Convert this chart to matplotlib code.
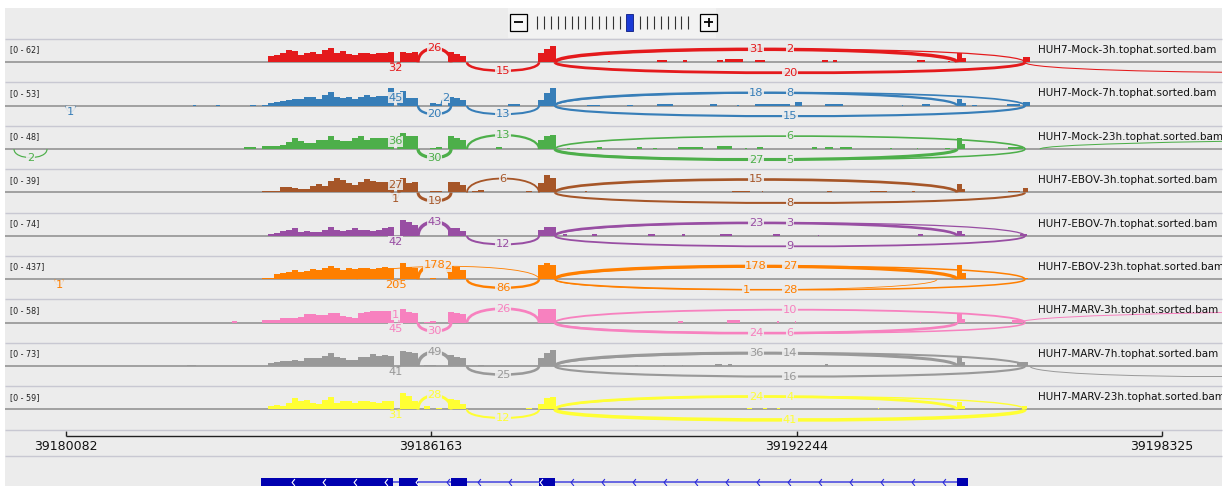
import numpy as np
import matplotlib
matplotlib.use("Agg")
import matplotlib.pyplot as plt
from matplotlib.path import Path
from matplotlib.patches import PathPatch, Rectangle

W, H = 1230, 486
VIEW_START, VIEW_END = 39179075, 39199323

SAMPLES = ["HUH7-Mock-3h.tophat.sorted.bam", "HUH7-Mock-7h.tophat.sorted.bam",
           "HUH7-Mock-23h.tophat.sorted.bam", "HUH7-EBOV-3h.tophat.sorted.bam",
           "HUH7-EBOV-7h.tophat.sorted.bam", "HUH7-EBOV-23h.tophat.sorted.bam",
           "HUH7-MARV-3h.tophat.sorted.bam", "HUH7-MARV-7h.tophat.sorted.bam",
           "HUH7-MARV-23h.tophat.sorted.bam"]
RANGES = [62, 53, 48, 39, 74, 437, 58, 73, 59]
COLORS = ["#e41a1c", "#377eb8", "#4daf4a", "#a65628", "#984ea3",
          "#ff7f00", "#f781bf", "#999999", "#ffff33"]

# coverage in 100 bp bins starting at COV_START
COV_START = 39183050
COV_BIN = 100
MOCK_3H_COV = [0,0,0,0,22,24,31,40,37,26, 31,34,28,40,48,31,37,28,26,31,
               31,29,31,31,35,0,33,31,33,0, 0,0,0,0,35,29,20,0,0,0,
               0,0,0,0,0,0,0,0,0,31, 43,54]
MOCK_7H_COV = [0,3,0,3,8,12,14,17,19,20, 26,24,20,31,39,26,22,24,20,24,
               31,26,29,29,50,0,41,22,22,0, 0,7,4,0,24,22,17,0,0,0,
               0,0,0,0,4,4,0,0,0,17, 36,50]
MOCK_23H_COV = [5,5,0,7,9,9,11,18,28,20, 15,15,24,24,33,24,21,20,30,33,
                24,28,28,28,28,0,41,34,34,0, 0,3,5,0,33,28,24,0,0,0,
                0,0,5,0,0,0,0,0,0,24, 35,37]
EBOV_3H_COV = [0,0,0,4,4,4,11,11,9,8, 8,13,18,13,25,30,27,20,16,23,
               28,25,23,23,23,0,30,20,23,0, 0,3,3,0,23,23,15,0,4,5,
               0,0,0,0,0,0,0,3,0,20, 37,30]
EBOV_7H_COV = [0,0,0,0,7,11,20,24,30,17, 20,17,17,24,37,24,20,24,30,24,
               24,20,24,30,37,0,63,57,44,0, 0,0,0,0,33,30,20,0,0,0,
               0,0,0,0,0,0,0,0,0,24, 37,37]
EBOV_23H_COV = [0,0,0,23,39,117,140,164,218,180, 195,242,218,273,320,257,218,257,242,257,
                273,242,273,281,273,0,374,296,257,0, 0,23,0,0,320,296,218,0,0,0,
                0,0,0,0,0,0,0,0,0,335, 374,335]
MARV_3H_COV = [0,0,0,10,9,9,14,16,16,18, 26,28,24,24,30,31,21,18,16,31,
               34,36,36,36,36,0,42,34,31,0, 3,5,0,0,34,31,26,0,0,0,
               0,0,0,0,0,0,0,0,0,42, 42,42]
MARV_7H_COV = [0,0,0,0,13,17,20,22,26,22, 33,33,30,39,52,35,33,26,26,35,
               35,46,39,43,39,0,61,56,52,0, 6,6,0,0,43,35,33,0,0,6,
               0,0,0,0,0,0,0,0,0,33, 52,65]
MARV_23H_COV = [0,0,0,0,10,14,10,21,37,26, 31,21,18,31,39,21,26,26,21,26,
                26,24,21,26,28,0,52,42,26,0, 10,0,5,0,35,31,18,0,0,0,
                0,0,0,0,0,0,0,5,0,16, 37,39]

# sparse coverage outside the binned window: (start, end, depth)
MOCK_3H_BLIPS = [(39189110, 39189140, 3), (39189920, 39190090, 8), (39190360, 39190420, 8),
                 (39190920, 39191020, 8), (39191050, 39191350, 11), (39191550, 39191720, 8),
                 (39192670, 39192770, 8), (39192850, 39192920, 8), (39194250, 39194380, 8),
                 (39194760, 39194800, 6), (39194910, 39194990, 31), (39194990, 39195060, 14),
                 (39196010, 39196130, 18)]
MOCK_7H_BLIPS = [(39182200, 39182250, 3), (39182590, 39182650, 3), (39188760, 39188970, 3),
                 (39189420, 39189520, 3), (39189920, 39190190, 5), (39190810, 39190920, 4),
                 (39191250, 39191280, 3), (39191550, 39191750, 6), (39191750, 39192020, 5),
                 (39192020, 39192140, 6), (39192220, 39192340, 10), (39192720, 39193020, 5),
                 (39194000, 39194020, 2), (39194330, 39194470, 4), (39194910, 39194990, 19),
                 (39194990, 39195060, 9), (39195160, 39195250, 3), (39195750, 39195960, 4),
                 (39196010, 39196130, 11)]
MOCK_23H_BLIPS = [(39188430, 39188480, 4), (39188920, 39189010, 5), (39189590, 39189670, 5),
                  (39189860, 39189920, 4), (39190270, 39190690, 6), (39190920, 39191170, 9),
                  (39191390, 39191420, 4), (39191590, 39191690, 5), (39192500, 39192590, 5),
                  (39192720, 39192850, 5), (39192970, 39193170, 5), (39193800, 39193830, 4),
                  (39194250, 39194270, 4), (39194710, 39194800, 4), (39194910, 39194990, 30),
                  (39194990, 39195050, 12), (39195760, 39196010, 6)]
EBOV_3H_BLIPS = [(39188730, 39188760, 3), (39191170, 39191470, 4), (39191670, 39191690, 3),
                 (39192750, 39192830, 4), (39193470, 39193750, 4), (39194170, 39194220, 3),
                 (39194910, 39194990, 18), (39194990, 39195050, 8), (39195760, 39195960, 4),
                 (39196010, 39196100, 10)]
EBOV_7H_BLIPS = [(39188360, 39188430, 7), (39188840, 39188920, 7), (39189770, 39189890, 7),
                 (39190340, 39190390, 7), (39190970, 39191170, 8), (39191850, 39191970, 7),
                 (39192600, 39192620, 5), (39194270, 39194350, 7), (39194910, 39194990, 20),
                 (39194990, 39195050, 9), (39195960, 39196080, 7)]
EBOV_23H_BLIPS = [(39194910, 39194990, 330), (39194990, 39195060, 150), (39196010, 39196100, 39)]
MARV_3H_BLIPS = [(39182850, 39182940, 5), (39190270, 39190360, 5), (39191090, 39191300, 7),
                 (39191920, 39191950, 5), (39192220, 39192240, 4), (39194300, 39194320, 3),
                 (39194910, 39194990, 26), (39194990, 39195050, 12), (39195830, 39196010, 8)]
MARV_7H_BLIPS = [(39182100, 39182250, 5), (39188360, 39188430, 6), (39189560, 39189610, 6),
                 (39190020, 39190060, 6), (39190340, 39190360, 6), (39190890, 39191000, 9),
                 (39191100, 39191170, 8), (39192720, 39192770, 8), (39194660, 39194680, 5),
                 (39194910, 39194990, 39), (39194990, 39195050, 18), (39195760, 39195850, 6),
                 (39195910, 39196100, 16)]
MARV_23H_BLIPS = [(39191420, 39191500, 6), (39191690, 39191750, 5), (39191920, 39191970, 5),
                  (39193600, 39193620, 4), (39194910, 39194990, 23), (39194990, 39195050, 10),
                  (39196000, 39196080, 12)]

# junctions: (start, end, reads, strand) ; +1 drawn above, -1 below
MOCK_3H_JUNC = [(39185514, 39185630, 32, -1), (39185947, 39186496, 26, 1),
                (39186762, 39187960, 15, -1), (39188226, 39194914, 31, 1),
                (39188226, 39196045, 2, 1), (39188226, 39196045, 20, -1),
                (39196045, 39205700, 1, -1)]
MOCK_7H_JUNC = [(39180090, 39180240, 1, -1), (39185514, 39185630, 45, 1),
                (39186330, 39186496, 2, 1), (39185947, 39186496, 20, -1),
                (39186762, 39187960, 13, -1), (39188226, 39194914, 18, 1),
                (39188226, 39196045, 8, 1), (39188226, 39196045, 15, -1)]
MOCK_23H_JUNC = [(39179225, 39179774, 2, -1), (39185514, 39185630, 36, 1),
                 (39185947, 39186496, 30, -1), (39186762, 39187960, 13, 1),
                 (39188226, 39196045, 6, 1), (39188226, 39194914, 27, -1),
                 (39188226, 39196045, 5, -1), (39196295, 39230000, 1, 1)]
EBOV_3H_JUNC = [(39185514, 39185630, 27, 1), (39185514, 39185630, 1, -1),
                (39185947, 39186496, 19, -1), (39186762, 39187960, 6, 1),
                (39188226, 39194914, 15, 1), (39188226, 39196045, 8, -1)]
EBOV_7H_JUNC = [(39185514, 39185630, 42, -1), (39185947, 39186496, 43, 1),
                (39186762, 39187960, 12, -1), (39188226, 39194914, 23, 1),
                (39188226, 39196045, 3, 1), (39188226, 39196045, 9, -1)]
EBOV_23H_JUNC = [(39179907, 39180040, 1, -1), (39185514, 39185630, 205, -1),
                 (39185947, 39186496, 178, 1), (39184932, 39187960, 2, 1),
                 (39186762, 39187960, 86, -1), (39188226, 39194914, 178, 1),
                 (39188226, 39196045, 27, 1), (39188226, 39194581, 1, -1),
                 (39188226, 39196045, 28, -1)]
MARV_3H_JUNC = [(39185514, 39185630, 1, 1), (39185514, 39185630, 45, -1),
                (39185947, 39186496, 30, -1), (39186762, 39187960, 26, 1),
                (39188226, 39196045, 10, 1), (39188226, 39194914, 24, -1),
                (39188226, 39196045, 6, -1), (39195962, 39214700, 1, 1)]
MARV_7H_JUNC = [(39185514, 39185630, 41, -1), (39185947, 39186496, 49, 1),
                (39186762, 39187960, 25, -1), (39188226, 39194914, 36, 1),
                (39188226, 39196045, 14, 1), (39188226, 39196045, 16, -1),
                (39196128, 39202500, 1, -1)]
MARV_23H_JUNC = [(39185514, 39185630, 31, -1), (39185947, 39186496, 28, 1),
                 (39186762, 39187960, 12, -1), (39188226, 39194914, 24, 1),
                 (39188226, 39196045, 4, 1), (39188226, 39196045, 41, -1)]

COVERAGE = [MOCK_3H_COV, MOCK_7H_COV, MOCK_23H_COV, EBOV_3H_COV, EBOV_7H_COV,
            EBOV_23H_COV, MARV_3H_COV, MARV_7H_COV, MARV_23H_COV]
BLIPS = [MOCK_3H_BLIPS, MOCK_7H_BLIPS, MOCK_23H_BLIPS, EBOV_3H_BLIPS, EBOV_7H_BLIPS,
         EBOV_23H_BLIPS, MARV_3H_BLIPS, MARV_7H_BLIPS, MARV_23H_BLIPS]
JUNCTIONS = [MOCK_3H_JUNC, MOCK_7H_JUNC, MOCK_23H_JUNC, EBOV_3H_JUNC, EBOV_7H_JUNC,
             EBOV_23H_JUNC, MARV_3H_JUNC, MARV_7H_JUNC, MARV_23H_JUNC]

RULER_TICKS = [39180082, 39186163, 39192244, 39198325]
GENE_EXONS = [(39183331, 39185530), (39185630, 39185947), (39186496, 39186762),
              (39187960, 39188226), (39194914, 39195097)]

BG = "#ececec"
TOP0, TRACK_H, BASE_OFF, FULL_PX = 39.0, 43.4, 23.3, 18.5

fig = plt.figure(figsize=(W / 100, H / 100), dpi=100, facecolor="white")
fig.patches.append(Rectangle((5 / W, 0), 1217 / W, 1 - 8 / H, transform=fig.transFigure,
                             facecolor=BG, edgecolor="none", zorder=-10))
fig.patches.append(Rectangle((508 / W, 1 - 38 / H), 208 / W, 30 / H, transform=fig.transFigure,
                             facecolor="#f2f2f2", edgecolor="none", zorder=-9))


def px_axes(left, top, width, height):
    ax = fig.add_axes([left / W, 1 - (top + height) / H, width / W, height / H])
    ax.set_axis_off()
    ax.patch.set_visible(False)
    return ax


def arc_px(span, strand):
    if span < 300:
        return 8 if strand > 0 else 6
    if span < 2000:
        return 14 if strand > 0 else 8.5
    return 13 if strand > 0 else 10.5


for i in range(9):
    top = TOP0 + i * TRACK_H
    ax = px_axes(5, top, 1217, TRACK_H)
    color = COLORS[i]
    u = RANGES[i] / FULL_PX
    ax.set_xlim(VIEW_START, VIEW_END)
    ax.set_ylim(-(TRACK_H - BASE_OFF) * u, BASE_OFF * u)

    cov = np.array(COVERAGE[i])
    edges = COV_START + COV_BIN * np.arange(len(cov))
    ax.bar(edges, cov, width=COV_BIN, align="edge", color=color, linewidth=0, zorder=2)
    bl = np.array(BLIPS[i])
    ax.bar(bl[:, 0], bl[:, 2], width=bl[:, 1] - bl[:, 0], align="edge",
           color=color, linewidth=0, zorder=2)
    ax.axhline(0, color="#8c8c8c", lw=1.1, zorder=1)

    maxj = max(j[2] for j in JUNCTIONS[i])
    for s, e, n, strand in JUNCTIONS[i]:
        h = strand * arc_px(e - s, strand) * u
        verts = [(s, 0), (s, h * 4 / 3), (e, h * 4 / 3), (e, 0)]
        path = Path(verts, [Path.MOVETO, Path.CURVE4, Path.CURVE4, Path.CURVE4])
        lw = (0.7 + 2.8 * (n / maxj) ** 0.6) * 0.72
        ax.add_patch(PathPatch(path, facecolor="none", edgecolor=color, lw=lw, zorder=3))
        if e > VIEW_END:
            continue  # label lies outside the view
        ax.text((s + e) / 2, h, str(n), ha="center", va="center", fontsize=8.2,
                color=color, zorder=4,
                bbox=dict(boxstyle="square,pad=0.05", fc=BG, ec="none", alpha=0.9))

    ax.text(5 / 1217, (TRACK_H - 11) / TRACK_H, f"[0 - {RANGES[i]}]", transform=ax.transAxes,
            fontsize=5.8, color="#222222", va="center", ha="left")
    ax.text((1038 - 5) / 1217, (TRACK_H - 11) / TRACK_H, SAMPLES[i], transform=ax.transAxes,
            fontsize=7.5, color="#111111", va="center", ha="left", clip_on=True)

# ruler
rax = px_axes(5, 428, 1217, 29)
rax.set_xlim(VIEW_START, VIEW_END)
rax.set_ylim(457, 428)
rax.hlines(436, RULER_TICKS[0], RULER_TICKS[-1], color="#222222", lw=1.0)
rax.vlines(RULER_TICKS, 430.5, 436, color="#222222", lw=1.0)
for t in RULER_TICKS:
    rax.text(t, 446, str(t), ha="center", va="center", fontsize=9, color="#111111")

# gene track
gax = px_axes(5, 457, 1217, 29)
gax.set_xlim(VIEW_START, VIEW_END)
gax.set_ylim(486, 457)
gax.hlines(482, GENE_EXONS[0][0], GENE_EXONS[-1][1], color="#5c5ce0", lw=1.3, zorder=1)
for s, e in GENE_EXONS:
    gax.add_patch(Rectangle((s, 478), e - s, 10, facecolor="#0000b0", edgecolor="none", zorder=2))
chev = Path([(0.4, 1), (-0.4, 0), (0.4, -1)], [Path.MOVETO, Path.LINETO, Path.LINETO])
for x in np.arange(39183867, GENE_EXONS[-1][0], 516):
    inside = any(s <= x <= e for s, e in GENE_EXONS)
    gax.plot(x, 482, marker=chev, markersize=5, markerfacecolor="none",
             markeredgecolor="white" if inside else "#2b2bd9", markeredgewidth=0.8, zorder=3)

# overlay: separators and zoom widget
ov = fig.add_axes([0, 0, 1, 1])
ov.set_xlim(0, W)
ov.set_ylim(H, 0)
ov.set_axis_off()
ov.patch.set_visible(False)
for k in range(10):
    y = TOP0 + k * TRACK_H
    ov.hlines(y, 5, 1222, color="#c8c8d2", lw=1.0)
ov.hlines(456, 5, 1222, color="#c8c8d2", lw=1.0)

ov.add_patch(Rectangle((510, 14), 17, 17, facecolor="#f8f8f8", edgecolor="black", lw=0.9))
ov.hlines(22.5, 514, 523, color="black", lw=1.3)
ov.add_patch(Rectangle((700, 14), 17, 17, facecolor="#f8f8f8", edgecolor="black", lw=0.9))
ov.hlines(22.5, 704, 713, color="black", lw=1.3)
ov.vlines(708.5, 18, 27, color="black", lw=1.3)
ov.vlines(537 + 6.9 * np.arange(13), 16, 29, color="#333333", lw=0.8)
ov.vlines(640 + 6.9 * np.arange(8), 16, 29, color="#333333", lw=0.8)
ov.add_patch(Rectangle((626, 14), 7, 17, facecolor="#1a3ad6", edgecolor="#0a1a80", lw=0.6))

fig.savefig("out.png", dpi=100, facecolor="white")
